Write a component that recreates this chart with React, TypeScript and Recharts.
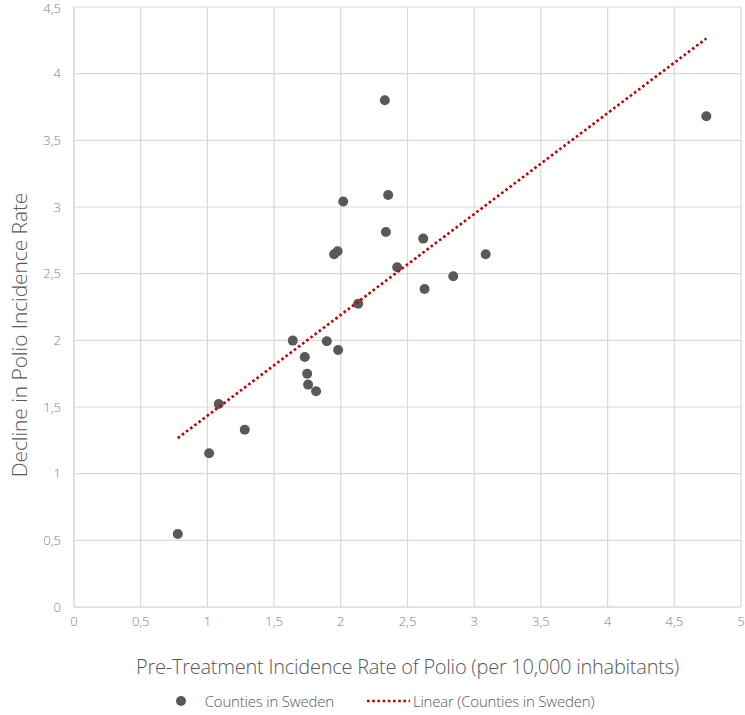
import React from 'react';
import { ScatterChart, Scatter, XAxis, YAxis, CartesianGrid, Legend, Label } from 'recharts';

// Pre-treatment incidence rate (x) vs decline in incidence rate (y), one point per county
const preTreatment = [
    0.778, 1.013, 1.085, 1.28, 1.64, 1.73, 1.748, 1.755, 1.815, 1.895, 1.98, 1.95,
    1.976, 2.018, 2.13, 2.33, 2.338, 2.355, 2.423, 2.618, 2.628, 2.843, 3.086, 4.74,
];
const decline = [
    0.548, 1.153, 1.523, 1.33, 1.998, 1.875, 1.75, 1.668, 1.618, 1.993, 1.928, 2.645,
    2.668, 3.041, 2.275, 3.8, 2.813, 3.09, 2.548, 2.763, 2.385, 2.48, 2.645, 3.68,
];
const xTicks = [0, 0.5, 1, 1.5, 2, 2.5, 3, 3.5, 4, 4.5, 5];
const yTicks = [0, 0.5, 1, 1.5, 2, 2.5, 3, 3.5, 4, 4.5];

const points = preTreatment.map((x, i) => ({ x, y: decline[i] }));

// least squares fit, drawn between the smallest and largest x like Excel does
function linearFit(xs: number[], ys: number[]) {
    const n = xs.length;
    const mx = xs.reduce((a, b) => a + b, 0) / n;
    const my = ys.reduce((a, b) => a + b, 0) / n;
    let sxy = 0;
    let sxx = 0;
    xs.forEach((x, i) => {
        sxy += (x - mx) * (ys[i] - my);
        sxx += (x - mx) * (x - mx);
    });
    const slope = sxy / sxx;
    const intercept = my - slope * mx;
    const lo = Math.min(...xs);
    const hi = Math.max(...xs);
    return [
        { x: lo, y: intercept + slope * lo },
        { x: hi, y: intercept + slope * hi },
    ];
}

const trend = linearFit(preTreatment, decline);

const FONT = '"Open Sans", sans-serif';
const TXT = { fontFamily: FONT, fontWeight: 300 } as const;
const DOT = '#595959';
const RED = '#c00000';
const fmt = (v: number) => String(v).replace('.', ',');

const Dot = (props: any) => <circle cx={props.cx} cy={props.cy} r={5} fill={DOT} />;
const NoDot = () => <g />;

function LegendContent() {
    return (
        <div style={{ ...TXT, display: 'flex', justifyContent: 'center', alignItems: 'center', height: 28, fontSize: 15, letterSpacing: -0.2, color: '#595959', paddingLeft: 28 }}>
            <svg width={12} height={12} style={{ marginRight: 18 }}>
                <circle cx={6} cy={6} r={5} fill={DOT} />
            </svg>
            <span style={{ marginRight: 32 }}>Counties in Sweden</span>
            <svg width={44} height={6} style={{ marginRight: 3 }}>
                <line x1={1} y1={3} x2={44} y2={3} stroke={RED} strokeWidth={2.6} strokeDasharray="2.6 2.6" />
            </svg>
            <span>Linear (Counties in Sweden)</span>
        </div>
    );
}

export default function App() {
    return (
        <div style={{ position: 'absolute', left: 0, top: 0, background: '#fff' }}>
            <ScatterChart width={745} height={715} margin={{ top: 7, right: 4, left: 0, bottom: 0 }}>
                <CartesianGrid stroke="#d9d9d9" strokeWidth={1.2} />
                <XAxis
                    type="number"
                    dataKey="x"
                    domain={[0, 5]}
                    ticks={xTicks}
                    tickFormatter={fmt}
                    height={80}
                    axisLine={{ stroke: '#d9d9d9', strokeWidth: 1.2 }}
                    tickLine={false}
                    tickMargin={4}
                    tick={{ ...TXT, fill: '#7f7f7f', fontSize: 13 }}
                >
                    <Label
                        content={(p: any) => (
                            <text x={p.viewBox.x + p.viewBox.width / 2} y={p.viewBox.y + 67} textAnchor="middle" fill="#595959" fontSize={20} letterSpacing={-0.25} style={TXT}>
                                Pre-Treatment Incidence Rate of Polio (per 10,000 inhabitants)
                            </text>
                        )}
                    />
                </XAxis>
                <YAxis
                    type="number"
                    dataKey="y"
                    domain={[0, 4.5]}
                    ticks={yTicks}
                    tickFormatter={fmt}
                    width={74}
                    axisLine={{ stroke: '#d9d9d9', strokeWidth: 1.2 }}
                    tickLine={false}
                    tickMargin={7}
                    tick={{ ...TXT, fill: '#7f7f7f', fontSize: 13 }}
                >
                    <Label
                        content={() => (
                            <text x={27} y={335} transform="rotate(-90 27 335)" textAnchor="middle" fill="#595959" fontSize={21} letterSpacing={-0.1} style={TXT}>
                                Decline in Polio Incidence Rate
                            </text>
                        )}
                    />
                </YAxis>
                <Legend verticalAlign="bottom" content={<LegendContent />} />
                <Scatter name="Counties in Sweden" data={points} fill={DOT} shape={Dot} isAnimationActive={false} />
                <Scatter
                    name="Linear (Counties in Sweden)"
                    data={trend}
                    fill={RED}
                    shape={NoDot}
                    line={{ stroke: RED, strokeWidth: 2.6, strokeDasharray: '2.6 2.6' }}
                    isAnimationActive={false}
                />
            </ScatterChart>
        </div>
    );
}
